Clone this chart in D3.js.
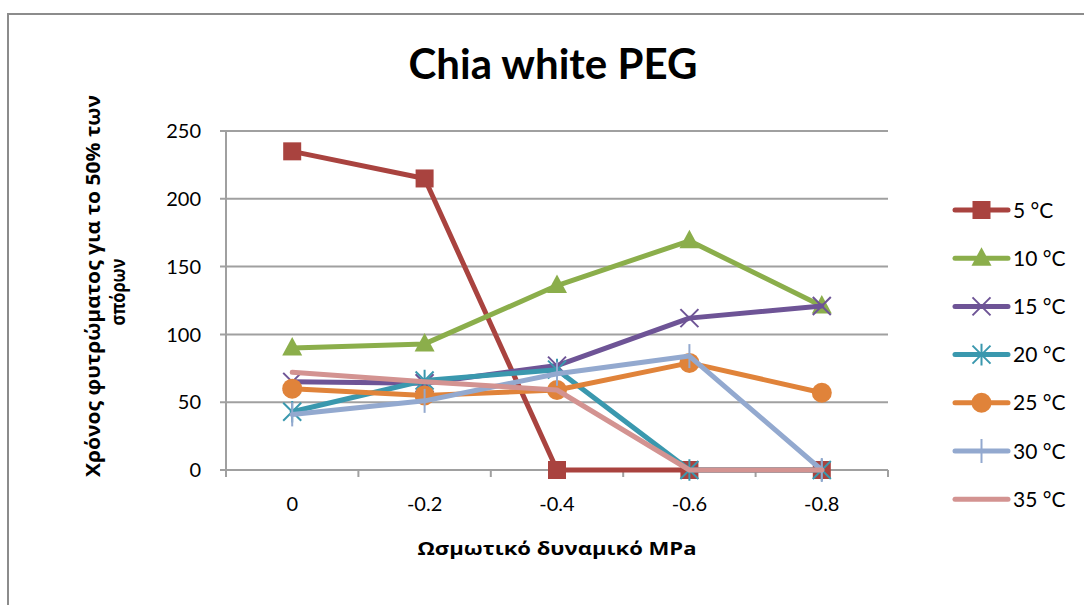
<!DOCTYPE html>
<html><head><meta charset="utf-8">
<script src="https://cdn.jsdelivr.net/npm/d3@7"></script>
<style>body{margin:0;background:#fff}svg{display:block}</style>
</head><body>
<script>
const categories = ["0", "-0.2", "-0.4", "-0.6", "-0.8"];
const seriesNames = ["5 °C", "10 °C", "15 °C", "20 °C", "25 °C", "30 °C", "35 °C"];
const s5  = [235, 215, 0, 0, 0];
const s10 = [90, 93, 136, 169, 121];
const s15 = [65, 64, 77, 112, 121];
const s20 = [43, 66, 74, 0, 0];
const s25 = [60, 55, 59, 79, 57];
const s30 = [41, 51, 71, 84, 0];
const s35 = [72, 65, 59, 0, 0];
const yTicks = [0, 50, 100, 150, 200, 250];
const seriesValues = [s5, s10, s15, s20, s25, s30, s35];
const colors = ["#A9433F", "#8BAE4B", "#6E5496", "#3A98AE", "#E0833A", "#93A9CF", "#D39391"];
const markers = ["square", "triangle", "x", "star", "circle", "plus", "none"];

const W = 1084, H = 605;
const svg = d3.select("body").append("svg").attr("width", W).attr("height", H);
const font = "Lato, 'Open Sans', sans-serif";
const gfont = "'Open Sans', 'Noto Sans', sans-serif";

svg.append("rect").attr("x", 8).attr("y", 14).attr("width", 1090).attr("height", 610)
  .attr("fill", "#fff").attr("stroke", "#8c8c8c").attr("stroke-width", 2);

const pLeft = 226, pRight = 888, pTop = 131, pBottom = 470;
const x = d3.scaleBand().domain(categories).range([pLeft, pRight]);
const y = d3.scaleLinear().domain([0, 250]).range([pBottom, pTop]);

svg.append("g").selectAll("line").data(yTicks).join("line")
  .attr("x1", pLeft - 6).attr("x2", pRight).attr("y1", d => y(d)).attr("y2", d => y(d))
  .attr("stroke", "#a0a0a0").attr("stroke-width", 2);

svg.append("line").attr("x1", pLeft).attr("x2", pLeft).attr("y1", pTop).attr("y2", pBottom + 7)
  .attr("stroke", "#a0a0a0").attr("stroke-width", 2);
const xb = categories.map(c => x(c)).concat([pRight]);
svg.append("g").selectAll("line").data(xb).join("line")
  .attr("x1", d => d).attr("x2", d => d).attr("y1", pBottom).attr("y2", pBottom + 7)
  .attr("stroke", "#a0a0a0").attr("stroke-width", 2);

svg.append("g").selectAll("text").data(yTicks).join("text")
  .attr("x", 201).attr("y", d => y(d)).attr("dy", "0.36em").attr("text-anchor", "end")
  .attr("font-family", font).attr("font-size", 20).attr("fill", "#000").text(d => d);
svg.append("g").selectAll("text").data(categories).join("text")
  .attr("x", d => x(d) + x.bandwidth() / 2).attr("y", 511).attr("text-anchor", "middle")
  .attr("font-family", font).attr("font-size", 20).attr("fill", "#000").text(d => d);

svg.append("text").attr("x", 553).attr("y", 79).attr("text-anchor", "middle")
  .attr("font-family", font).attr("font-weight", "bold").attr("font-size", 42).text("Chia white PEG");
svg.append("text").attr("x", 557).attr("y", 555).attr("text-anchor", "middle")
  .attr("font-family", gfont).attr("font-weight", "bold").attr("font-size", 18)
  .attr("textLength", 279).attr("lengthAdjust", "spacingAndGlyphs").text("Ωσμωτικό δυναμικό MPa");
const yt = svg.append("g").attr("transform", "translate(100,286) rotate(-90)");
yt.append("text").attr("x", 0).attr("y", 0).attr("text-anchor", "middle")
  .attr("font-family", gfont).attr("font-weight", "bold").attr("font-size", 19)
  .attr("textLength", 382).attr("lengthAdjust", "spacingAndGlyphs").text("Χρόνος φυτρώματος για το 50% των");
yt.append("text").attr("x", -6).attr("y", 25).attr("text-anchor", "middle")
  .attr("font-family", gfont).attr("font-weight", "bold").attr("font-size", 19)
  .attr("textLength", 67).attr("lengthAdjust", "spacingAndGlyphs").text("σπόρων");

function drawMarker(g, type, cx, cy, color) {
  if (type === "square") {
    g.append("rect").attr("x", cx - 9).attr("y", cy - 9).attr("width", 18).attr("height", 18).attr("fill", color);
  } else if (type === "triangle") {
    const r = 10;
    g.append("path").attr("d", `M${cx},${cy - r * 1.1}L${cx + r},${cy + r * 0.75}L${cx - r},${cy + r * 0.75}Z`).attr("fill", color);
  } else if (type === "x") {
    const r = 9;
    g.append("path").attr("d", `M${cx - r},${cy - r}L${cx + r},${cy + r}M${cx - r},${cy + r}L${cx + r},${cy - r}`)
      .attr("stroke", color).attr("stroke-width", 2).attr("fill", "none");
  } else if (type === "star") {
    const r = 9;
    g.append("path").attr("d", `M${cx - r},${cy - r}L${cx + r},${cy + r}M${cx - r},${cy + r}L${cx + r},${cy - r}M${cx},${cy - r * 1.2}L${cx},${cy + r * 1.2}`)
      .attr("stroke", color).attr("stroke-width", 2).attr("fill", "none");
  } else if (type === "circle") {
    g.append("circle").attr("cx", cx).attr("cy", cy).attr("r", 10).attr("fill", color);
  } else if (type === "plus") {
    const r = 12;
    g.append("path").attr("d", `M${cx},${cy - r}L${cx},${cy + r}`)
      .attr("stroke", color).attr("stroke-width", 2).attr("fill", "none");
  }
}

const line = d3.line().x((d, i) => x(categories[i]) + x.bandwidth() / 2).y(d => y(d));
seriesValues.forEach((vals, si) => {
  const g = svg.append("g");
  g.append("path").attr("d", line(vals)).attr("fill", "none").attr("stroke", colors[si])
    .attr("stroke-width", 5).attr("stroke-linejoin", "round").attr("stroke-linecap", "round");
  vals.forEach((v, i) => drawMarker(g, markers[si], x(categories[i]) + x.bandwidth() / 2, y(v), colors[si]));
});

const lg = svg.append("g");
seriesNames.forEach((name, i) => {
  const ly = 210 + i * 48.2;
  lg.append("line").attr("x1", 955).attr("x2", 1008).attr("y1", ly).attr("y2", ly)
    .attr("stroke", colors[i]).attr("stroke-width", 5).attr("stroke-linecap", "round");
  drawMarker(lg, markers[i], 981.5, ly, colors[i]);
  lg.append("text").attr("x", 1013).attr("y", ly).attr("dy", "0.36em")
    .attr("font-family", font).attr("font-size", 21).text(name);
});
</script>
</body></html>
